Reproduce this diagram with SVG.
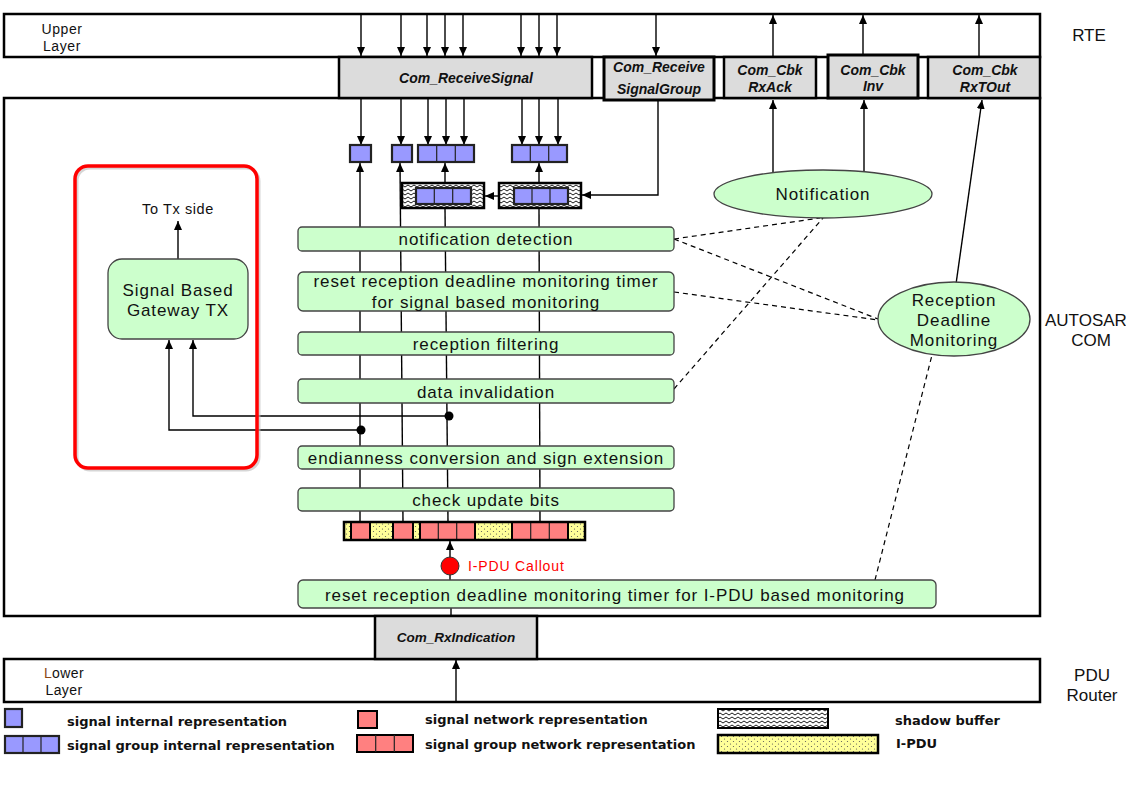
<svg xmlns="http://www.w3.org/2000/svg" width="1126" height="788" viewBox="0 0 1126 788">
<defs>
<style>
.frame{fill:#fff;stroke:#000;stroke-width:2.5}
.api{fill:#dcdcdc;stroke:#000;stroke-width:2.5}
.apit{font-family:"Liberation Sans",Arial,sans-serif;font-size:14px;font-weight:bold;font-style:italic;text-anchor:middle;dominant-baseline:central;fill:#111}
.lbl{font-family:"Liberation Sans",Arial,sans-serif;font-size:17px;text-anchor:middle;dominant-baseline:central;fill:#111}
.proc{fill:#ccffcc;stroke:#444;stroke-width:1.3}
.pt{font-family:"Liberation Sans",Arial,sans-serif;font-size:17px;letter-spacing:0.9px;text-anchor:middle;dominant-baseline:central;fill:#111}
.ln{stroke:#000;stroke-width:1.4;fill:none}
.arr{stroke:#000;stroke-width:1.4;fill:none;marker-end:url(#ah)}
.dash{stroke:#000;stroke-width:1.2;fill:none;stroke-dasharray:5,4}
.blue{fill:#9999ff;stroke:#222;stroke-width:2.2}
.cell{stroke:#222;stroke-width:1.2}
.red{fill:#ff8080;stroke:#000;stroke-width:2}
.leg{font-family:"DejaVu Sans",Verdana,sans-serif;font-size:13px;font-weight:bold;dominant-baseline:central;fill:#111}
</style>
<marker id="ah" markerWidth="10" markerHeight="10" refX="9" refY="5" orient="auto" markerUnits="userSpaceOnUse">
<path d="M0,1 L9,5 L0,9 z" fill="#000"/>
</marker>
<pattern id="zig" width="6" height="4" patternUnits="userSpaceOnUse">
<rect width="6" height="4" fill="#fff"/>
<path d="M0,1 L3,3 L6,1" stroke="#000" stroke-width="0.9" fill="none"/>
</pattern>
<pattern id="dots" width="6" height="5" patternUnits="userSpaceOnUse">
<rect width="6" height="5" fill="#ffff99"/>
<circle cx="1.5" cy="1.5" r="0.6" fill="#555"/>
<circle cx="4.5" cy="4" r="0.6" fill="#555"/>
</pattern>
</defs>

<!-- layer frames -->
<g id="upper-layer">
<rect class="frame" x="4" y="14" width="1036" height="43"/>
<text class="lbl" style="font-size:14px;letter-spacing:0.6px" x="62" y="29">Upper</text>
<text class="lbl" style="font-size:14px;letter-spacing:0.6px" x="62" y="46">Layer</text>
</g>
<g id="autosar-com">
<rect class="frame" x="4" y="98" width="1036" height="518"/>
</g>
<g id="lower-layer">
<rect class="frame" x="4" y="659" width="1036" height="43"/>
<text class="lbl" style="font-size:14px;letter-spacing:0.4px" x="64" y="673"><tspan fill="#8b4513">L</tspan>ower</text>
<text class="lbl" style="font-size:14px;letter-spacing:0.4px" x="64" y="690">Layer</text>
</g>
<g id="side-labels">
<text class="lbl" x="1089" y="35">RTE</text>
<text class="lbl" style="text-anchor:start" x="1045" y="320">AUTOSAR</text>
<text class="lbl" x="1091" y="340">COM</text>
<text class="lbl" x="1092" y="675">PDU</text>
<text class="lbl" x="1092" y="695">Router</text>
</g>

<!-- API boxes -->
<g id="com-receivesignal">
<rect class="api" x="339" y="57" width="253" height="41"/>
<text class="apit" x="466" y="78">Com_ReceiveSignal</text>
</g>
<g id="com-receivesignalgroup">
<rect class="api" style="stroke-width:3" x="604" y="57" width="110" height="43"/>
<text class="apit" x="659" y="67">Com_Receive</text>
<text class="apit" x="659" y="89">SignalGroup</text>
</g>
<g id="com-cbk-rxack">
<rect class="api" x="724" y="57" width="92" height="41"/>
<text class="apit" x="770" y="70">Com_Cbk</text>
<text class="apit" x="770" y="87">RxAck</text>
</g>
<g id="com-cbk-inv">
<rect class="api" style="stroke-width:3" x="828" y="55" width="90" height="43"/>
<text class="apit" x="873" y="70">Com_Cbk</text>
<text class="apit" x="873" y="86">Inv</text>
</g>
<g id="com-cbk-rxtout">
<rect class="api" x="928" y="57" width="112" height="41"/>
<text class="apit" x="985" y="70">Com_Cbk</text>
<text class="apit" x="985" y="87">RxTOut</text>
</g>
<g id="com-rxindication">
<rect class="api" x="375" y="616" width="162" height="43"/>
<text class="apit" style="font-size:13.5px" x="456" y="637">Com_RxIndication</text>
</g>

<!-- connectors -->
<g id="connectors">
<line class="arr" x1="361" y1="14" x2="361" y2="56"/>
<line class="arr" x1="401" y1="14" x2="401" y2="56"/>
<line class="arr" x1="427" y1="14" x2="427" y2="56"/>
<line class="arr" x1="445" y1="14" x2="445" y2="56"/>
<line class="arr" x1="463" y1="14" x2="463" y2="56"/>
<line class="arr" x1="521" y1="14" x2="521" y2="56"/>
<line class="arr" x1="539" y1="14" x2="539" y2="56"/>
<line class="arr" x1="557" y1="14" x2="557" y2="56"/>
<line class="arr" x1="656" y1="14" x2="656" y2="56"/>
<line class="arr" x1="361" y1="99" x2="361" y2="145"/>
<line class="arr" x1="401" y1="99" x2="401" y2="145"/>
<line class="arr" x1="428" y1="99" x2="428" y2="145"/>
<line class="arr" x1="446" y1="99" x2="446" y2="145"/>
<line class="arr" x1="464" y1="99" x2="464" y2="145"/>
<line class="arr" x1="522" y1="99" x2="522" y2="145"/>
<line class="arr" x1="539" y1="99" x2="539" y2="145"/>
<line class="arr" x1="558" y1="99" x2="558" y2="145"/>
<line class="arr" x1="773" y1="57" x2="773" y2="15"/>
<line class="arr" x1="863" y1="55" x2="863" y2="15"/>
<line class="arr" x1="979" y1="57" x2="979" y2="15"/>
<line class="arr" x1="773" y1="172" x2="773" y2="100"/>
<line class="arr" x1="864" y1="171" x2="864" y2="100"/>
<line class="arr" x1="956" y1="284" x2="982" y2="100"/>
<polyline class="arr" points="658,101 658,195 582,195"/>
<line class="arr" x1="499" y1="196" x2="485" y2="196"/>
<line class="arr" x1="445" y1="183" x2="445" y2="163"/>
<line class="arr" x1="539" y1="183" x2="539" y2="163"/>
<line class="arr" x1="360" y1="522" x2="360" y2="163"/>
<line class="arr" x1="403" y1="522" x2="400" y2="163"/>
<line class="ln" x1="448" y1="522" x2="445" y2="208"/>
<line class="ln" x1="540" y1="522" x2="539" y2="208"/>
<polyline class="arr" points="449,416 193,416 193,340"/>
<polyline class="arr" points="361,430 169,430 169,340"/>
<circle cx="449" cy="416" r="4.5" fill="#000"/>
<circle cx="361" cy="430" r="4.5" fill="#000"/>
<line class="arr" x1="178" y1="259" x2="178" y2="221"/>
<line class="ln" x1="451" y1="608" x2="451" y2="617"/>
<line class="arr" x1="450" y1="580" x2="450" y2="541"/>
<line class="arr" x1="456" y1="701" x2="456" y2="660"/>
<line class="dash" x1="674" y1="239" x2="820" y2="218"/>
<line class="dash" x1="674" y1="239" x2="878" y2="319"/>
<line class="dash" x1="674" y1="292" x2="878" y2="320"/>
<line class="dash" x1="674" y1="389" x2="823" y2="218"/>
<line class="dash" x1="875" y1="580" x2="932" y2="355"/>
</g>

<!-- signal buffers -->
<g id="signal-buffer-1">
<rect class="blue" x="350" y="145" width="21" height="17"/>
</g>
<g id="signal-buffer-2">
<rect class="blue" x="392" y="145" width="20" height="17"/>
</g>
<g id="group-buffer-1">
<rect class="blue" x="418" y="145" width="56" height="17"/>
<line class="cell" x1="436.7" y1="145" x2="436.7" y2="162"/>
<line class="cell" x1="455.3" y1="145" x2="455.3" y2="162"/>
</g>
<g id="group-buffer-2">
<rect class="blue" x="512" y="145" width="55" height="17"/>
<line class="cell" x1="530.3" y1="145" x2="530.3" y2="162"/>
<line class="cell" x1="548.7" y1="145" x2="548.7" y2="162"/>
</g>
<g id="shadow-buffer-1">
<rect x="402" y="183" width="82" height="25" fill="url(#zig)" stroke="#000" stroke-width="2.5"/>
<rect class="blue" x="416" y="188" width="55" height="16"/>
<line class="cell" x1="434.3" y1="188" x2="434.3" y2="204"/>
<line class="cell" x1="452.7" y1="188" x2="452.7" y2="204"/>
</g>
<g id="shadow-buffer-2">
<rect x="499" y="183" width="82" height="25" fill="url(#zig)" stroke="#000" stroke-width="2.5"/>
<rect class="blue" x="514" y="188" width="54" height="16"/>
<line class="cell" x1="532" y1="188" x2="532" y2="204"/>
<line class="cell" x1="550" y1="188" x2="550" y2="204"/>
</g>

<!-- processing steps -->
<g id="notification-detection">
<rect class="proc" x="298" y="227" width="376" height="24" rx="4"/>
<text class="pt" x="486" y="239">notification detection</text>
</g>
<g id="reset-signal-timer">
<rect class="proc" x="298" y="272" width="376" height="39" rx="5"/>
<text class="pt" x="486" y="281">reset reception deadline monitoring timer</text>
<text class="pt" x="486" y="302">for signal based monitoring</text>
</g>
<g id="reception-filtering">
<rect class="proc" x="298" y="332" width="376" height="23" rx="4"/>
<text class="pt" x="486" y="344">reception filtering</text>
</g>
<g id="data-invalidation">
<rect class="proc" x="298" y="379" width="376" height="24" rx="4"/>
<text class="pt" x="486" y="392">data invalidation</text>
</g>
<g id="endianness-conversion">
<rect class="proc" x="298" y="446" width="376" height="23" rx="4"/>
<text class="pt" x="486" y="458">endianness conversion and sign extension</text>
</g>
<g id="check-update-bits">
<rect class="proc" x="298" y="488" width="376" height="23" rx="4"/>
<text class="pt" x="486" y="500">check update bits</text>
</g>
<g id="reset-ipdu-timer">
<rect class="proc" x="298" y="580" width="638" height="28" rx="5"/>
<text class="pt" x="615" y="595">reset reception deadline monitoring timer for I-PDU based monitoring</text>
</g>

<!-- I-PDU buffer -->
<g id="ipdu-buffer">
<rect x="344" y="522" width="241" height="18" fill="url(#dots)"/>
<rect class="red" x="351" y="522" width="19" height="18"/>
<rect class="red" x="393" y="522" width="20" height="18"/>
<rect class="red" x="420" y="522" width="55" height="18"/>
<line class="cell" x1="438.3" y1="522" x2="438.3" y2="540"/>
<line class="cell" x1="456.7" y1="522" x2="456.7" y2="540"/>
<rect class="red" x="512" y="522" width="56" height="18"/>
<line class="cell" x1="530.7" y1="522" x2="530.7" y2="540"/>
<line class="cell" x1="549.3" y1="522" x2="549.3" y2="540"/>
<rect x="344" y="522" width="241" height="18" fill="none" stroke="#000" stroke-width="2.5"/>
</g>
<g id="ipdu-callout">
<circle cx="450" cy="566" r="9" fill="#ff0000" stroke="#333" stroke-width="1"/>
<text class="pt" style="font-size:14px;letter-spacing:0.85px;text-anchor:start;fill:#ff0000" x="468" y="566">I-PDU Callout</text>
</g>

<!-- ellipses -->
<g id="notification">
<ellipse class="proc" cx="823" cy="194" rx="109" ry="24"/>
<text class="pt" x="823" y="194">Notification</text>
</g>
<g id="reception-deadline-monitoring">
<ellipse class="proc" cx="954" cy="319" rx="76" ry="37"/>
<text class="pt" x="954" y="300">Reception</text>
<text class="pt" x="954" y="320">Deadline</text>
<text class="pt" x="954" y="340">Monitoring</text>
</g>

<!-- gateway -->
<g id="gateway-highlight">
<rect x="77" y="168" width="182" height="302" rx="13" fill="none" stroke="#bbb" stroke-width="3" opacity="0.6"/>
<rect x="75" y="166" width="182" height="302" rx="13" fill="none" stroke="#ff0000" stroke-width="3.5"/>
</g>
<g id="signal-based-gateway-tx">
<rect class="proc" x="108" y="259" width="140" height="80" rx="14"/>
<text class="pt" x="178" y="290">Signal Based</text>
<text class="pt" x="178" y="310">Gateway TX</text>
</g>
<g id="to-tx-side">
<text class="pt" style="font-size:14.5px;letter-spacing:0.6px" x="178" y="209">To Tx side</text>
</g>

<!-- legend -->
<g id="legend">
<rect class="blue" x="5" y="709" width="17" height="18"/>
<text class="leg" x="67" y="721">signal internal representation</text>
<rect class="blue" x="5" y="736" width="54" height="17"/>
<line class="cell" x1="23" y1="736" x2="23" y2="753"/>
<line class="cell" x1="41" y1="736" x2="41" y2="753"/>
<text class="leg" x="67" y="745">signal group internal representation</text>
<rect class="red" x="358" y="711" width="19" height="17"/>
<text class="leg" x="425" y="719">signal network representation</text>
<rect class="red" x="357" y="735" width="56" height="17"/>
<line class="cell" x1="375.7" y1="735" x2="375.7" y2="752"/>
<line class="cell" x1="394.3" y1="735" x2="394.3" y2="752"/>
<text class="leg" x="425" y="744">signal group network representation</text>
<rect x="718" y="709" width="110" height="19" fill="url(#zig)" stroke="#000" stroke-width="2"/>
<text class="leg" x="895" y="720">shadow buffer</text>
<rect x="718" y="735" width="160" height="18" fill="url(#dots)" stroke="#000" stroke-width="2.5"/>
<text class="leg" x="896" y="743">I-PDU</text>
</g>
</svg>
